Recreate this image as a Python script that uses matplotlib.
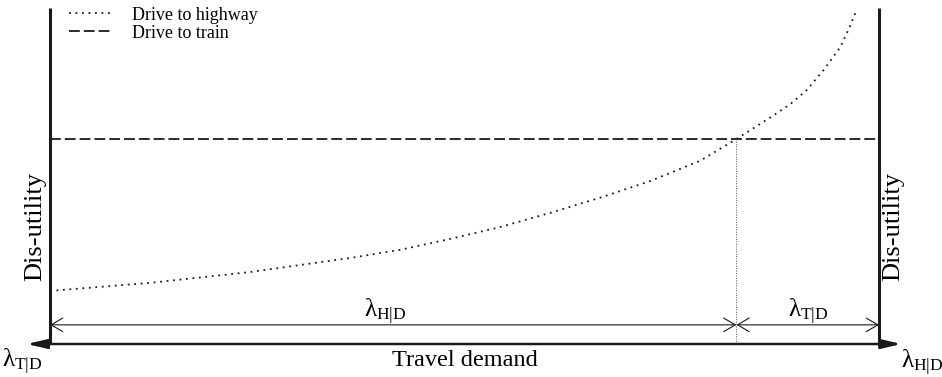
import matplotlib
matplotlib.use("Agg")
import matplotlib.pyplot as plt

# demand share (0 = left bound, 1 = right bound) and dis-utility of driving to highway
demand = [0.0, 0.121, 0.241, 0.362, 0.422, 0.483, 0.543, 0.603, 0.663,
          0.724, 0.784, 0.828, 0.872, 0.893, 0.913, 0.933, 0.953, 0.964, 0.973]
highway_cost = [0.158, 0.182, 0.214, 0.256, 0.280, 0.313, 0.348, 0.390, 0.435,
                0.485, 0.545, 0.610, 0.679, 0.714, 0.756, 0.815, 0.882, 0.940, 0.994]
train_cost = 0.610
split_demand = 0.828

plt.rcParams['font.family'] = ['Liberation Serif', 'DejaVu Serif']
plt.rcParams['mathtext.fontset'] = 'custom'
plt.rcParams['mathtext.rm'] = 'Liberation Serif'
plt.rcParams['mathtext.it'] = 'Liberation Serif'

fig = plt.figure(figsize=(9.42, 3.77), dpi=100)
ax = fig.add_axes([50 / 942, 33 / 377, 829 / 942, 336 / 377])
ax.set_xlim(0, 1)
ax.set_ylim(0, 1)
ax.axis('off')

ink = '#1a1a1a'

# cost curves
ax.plot(demand, highway_cost, color=ink, lw=1.3, linestyle=(0, (1, 2.6)),
        label='Drive to highway', clip_on=False)
ax.plot([0, 1], [train_cost, train_cost], color=ink, lw=1.3,
        linestyle=(0, (6, 2.2)), label='Drive to train')
ax.plot([split_demand, split_demand], [0, train_cost], color='#555555', lw=0.7,
        linestyle=(0, (1, 1.5)))

# vertical bounds
ax.plot([0, 0], [0, 1], color=ink, lw=2.2, clip_on=False, solid_capstyle='butt')
ax.plot([1, 1], [0, 1], color=ink, lw=2.2, clip_on=False, solid_capstyle='butt')

# demand axis with arrows both ways
ax.annotate('', xy=(1.027, 0), xytext=(-0.028, 0), annotation_clip=False,
            arrowprops=dict(arrowstyle='<|-|>,head_length=0.85,head_width=0.2',
                            lw=1.8, color=ink, shrinkA=0, shrinkB=0,
                            mutation_scale=14))

# split of demand between the two modes
inner = dict(arrowstyle='<->,head_length=0.6,head_width=0.35', lw=0.8,
             color=ink, shrinkA=0, shrinkB=0, mutation_scale=14)
ax.annotate('', xy=(split_demand, 0.057), xytext=(0, 0.057), arrowprops=inner)
ax.annotate('', xy=(1, 0.057), xytext=(split_demand, 0.057), arrowprops=inner)

lam = 18
ax.text(0.404, 0.094, r'$\lambda_{\mathrm{H|D}}$', fontsize=lam, ha='center', va='center')
ax.text(0.914, 0.094, r'$\lambda_{\mathrm{T|D}}$', fontsize=lam, ha='center', va='center')
ax.text(-0.034, -0.052, r'$\lambda_{\mathrm{T|D}}$', fontsize=lam, ha='center',
        va='center', clip_on=False)
ax.text(1.052, -0.055, r'$\lambda_{\mathrm{H|D}}$', fontsize=lam, ha='center',
        va='center', clip_on=False)

ax.text(0.5, -0.048, 'Travel demand', fontsize=17.5, ha='center', va='center')
ax.text(-0.018, 0.35, 'Dis-utility', fontsize=19, rotation=90, ha='center', va='center')
ax.text(1.017, 0.35, 'Dis-utility', fontsize=19, rotation=90, ha='center', va='center')

ax.legend(loc='upper left', bbox_to_anchor=(0.003, 1.052), frameon=False,
          fontsize=13, handlelength=2.4, handletextpad=1.1, labelspacing=0.05)

fig.savefig('out.png', dpi=100)
